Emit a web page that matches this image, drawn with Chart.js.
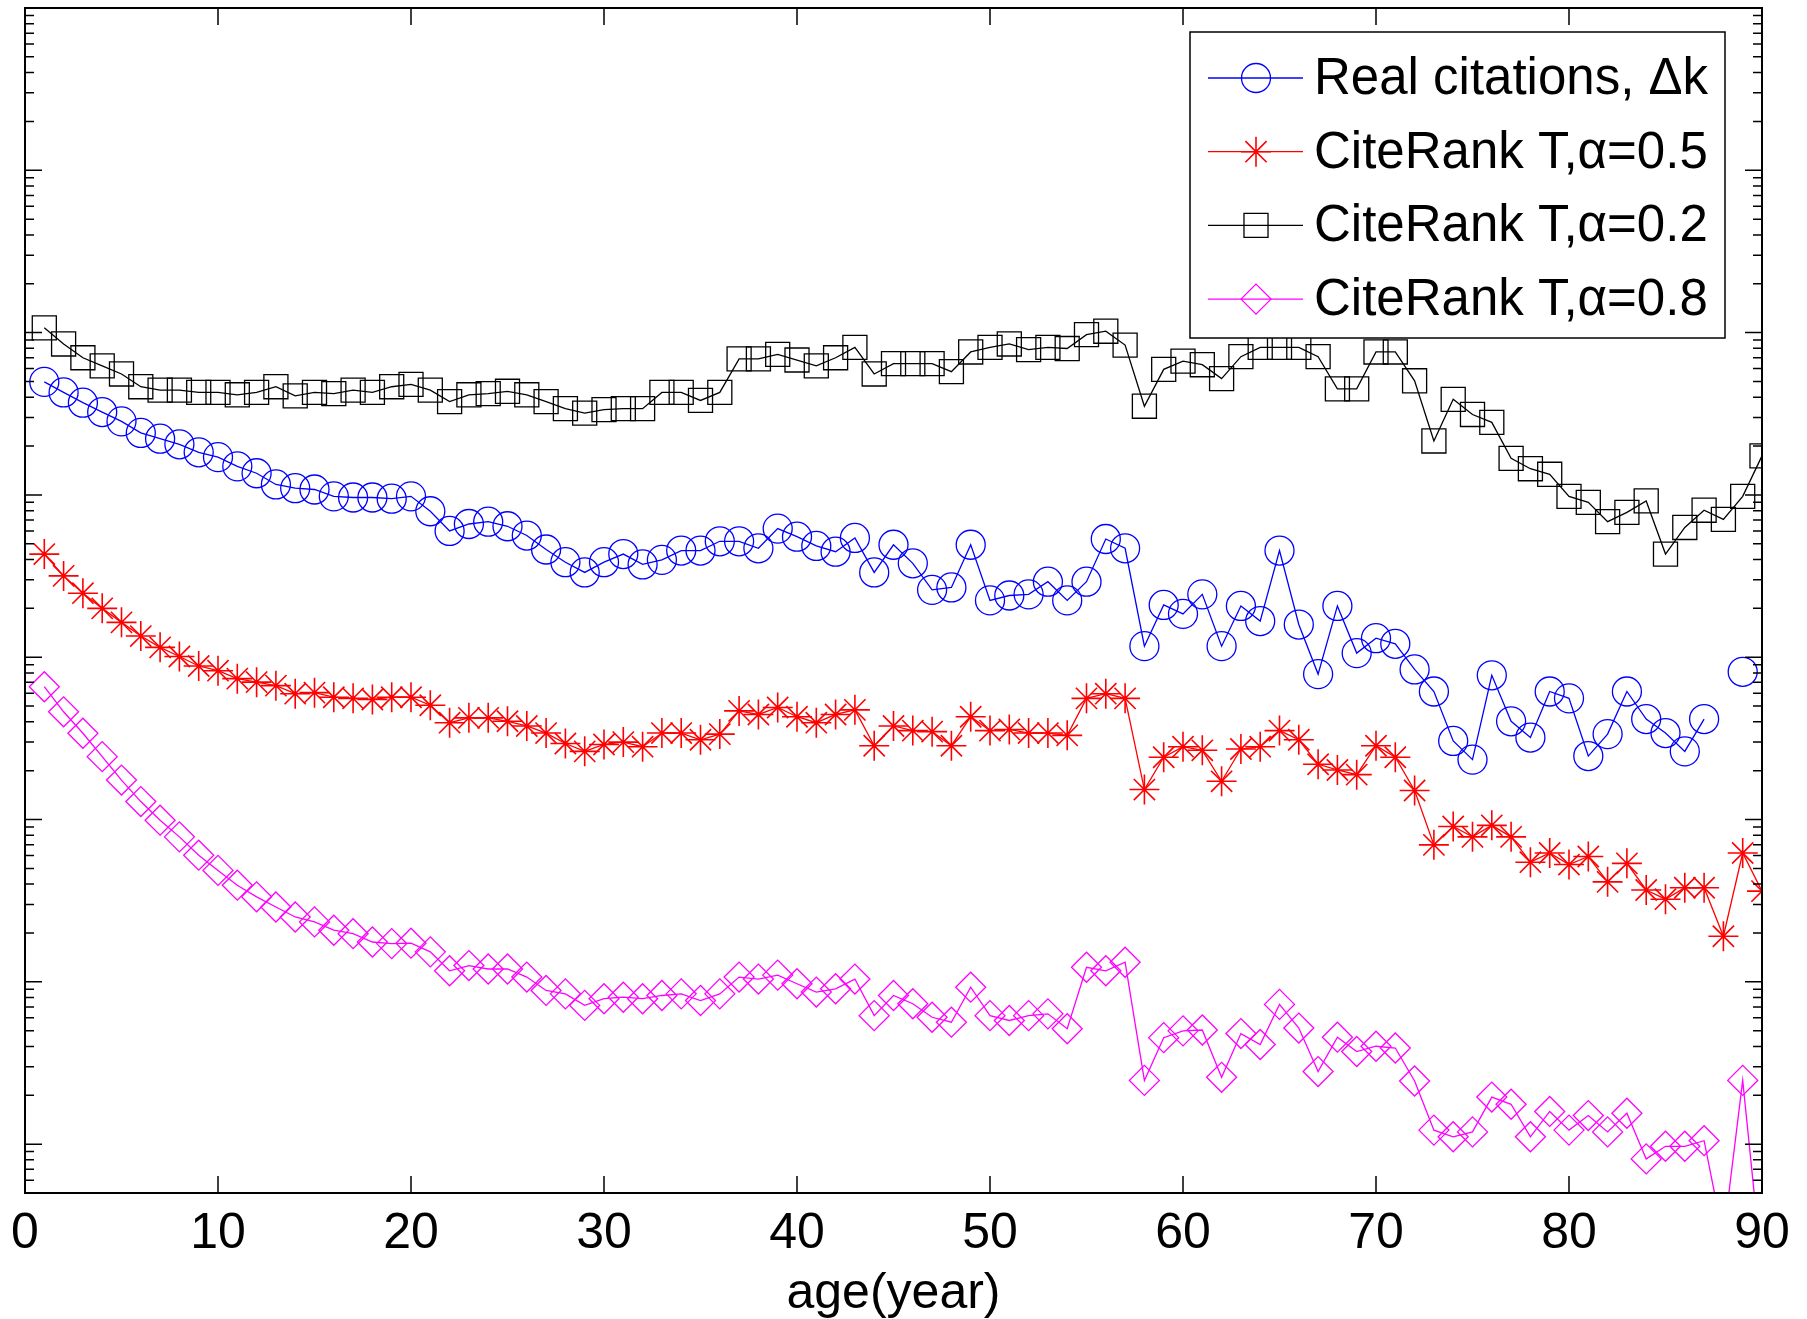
<!DOCTYPE html>
<html lang="en">
<head>
    <meta charset="UTF-8">
    <title>Citations vs age</title>
    <script src="https://cdn.jsdelivr.net/npm/chart.js@4.4.1/dist/chart.umd.min.js"></script>
    <style>
        html, body { margin: 0; padding: 0; background: #fff; }
        canvas { display: block; }
    </style>
</head>
<body>
    <canvas id="myChart" width="1807" height="1319"></canvas>
    <script>

        var ages = [1, 2, 3, 4, 5, 6, 7, 8, 9, 10,
            11, 12, 13, 14, 15, 16, 17, 18, 19, 20,
            21, 22, 23, 24, 25, 26, 27, 28, 29, 30,
            31, 32, 33, 34, 35, 36, 37, 38, 39, 40,
            41, 42, 43, 44, 45, 46, 47, 48, 49, 50,
            51, 52, 53, 54, 55, 56, 57, 58, 59, 60,
            61, 62, 63, 64, 65, 66, 67, 68, 69, 70,
            71, 72, 73, 74, 75, 76, 77, 78, 79, 80,
            81, 82, 83, 84, 85, 86, 87, 88, 89, 90];

        // real citations, delta k (null = no value at that age)
        var realCitations = [0.00497, 0.00428, 0.00370, 0.00324, 0.00284, 0.00241, 0.00222, 0.00205, 0.00183, 0.00171,
            0.00150, 0.00136, 0.00116, 0.00110, 0.00108, 0.00098, 0.000964, 0.000964, 0.000948, 0.00098,
            0.000793, 0.000600, 0.000662, 0.000684, 0.000641, 0.000562, 0.000461, 0.000385, 0.000333, 0.000385,
            0.000432, 0.000373, 0.000398, 0.000454, 0.000454, 0.000518, 0.000518, 0.000469, 0.000620, 0.000553,
            0.000485, 0.000447, 0.000543, 0.000333, 0.000493, 0.000379, 0.000260, 0.000269, 0.000493, 0.000224,
            0.000240, 0.000244, 0.000292, 0.000224, 0.000292, 0.000535, 0.000469, 0.000117, 0.000210, 0.000185,
            0.000244, 0.000117, 0.000207, 0.000167, 0.000454, 0.000159, 0.0000787, 0.000207, 0.000106, 0.000131,
            0.000121, 0.0000841, 0.0000615, 0.0000305, 0.0000234, 0.0000774, 0.0000403, 0.0000320, 0.0000615, 0.0000558,
            0.0000246, 0.0000336, 0.0000615, 0.0000416, 0.0000341, 0.0000263, 0.0000416, null, 0.0000813, null];

        var citeRank05 = [0.000432, 0.000317, 0.000248, 0.000200, 0.000164, 0.000135, 0.000115, 0.000101, 0.0000883, 0.0000826,
            0.0000738, 0.0000702, 0.0000668, 0.0000596, 0.0000605, 0.0000567, 0.0000558, 0.0000549, 0.0000567, 0.0000567,
            0.0000506, 0.0000395, 0.0000423, 0.0000423, 0.0000403, 0.0000377, 0.0000341, 0.0000294, 0.0000263, 0.0000290,
            0.0000300, 0.0000281, 0.0000341, 0.0000341, 0.0000310, 0.0000336, 0.0000467, 0.0000444, 0.0000490, 0.0000430,
            0.0000395, 0.0000444, 0.0000474, 0.0000285, 0.0000377, 0.0000353, 0.0000348, 0.0000285, 0.0000430, 0.0000353,
            0.0000359, 0.0000341, 0.0000341, 0.0000330, 0.0000558, 0.0000596, 0.0000558, 0.0000153, 0.0000242, 0.0000281,
            0.0000267, 0.0000172, 0.0000272, 0.0000281, 0.0000353, 0.0000310, 0.0000219, 0.0000202, 0.0000189, 0.0000285,
            0.0000242, 0.0000151, 0.00000698, 0.00000906, 0.00000782, 0.00000921, 0.00000782, 0.00000546, 0.00000622, 0.00000528,
            0.00000592, 0.00000413, 0.00000537, 0.00000368, 0.00000323, 0.00000380, 0.00000380, 0.00000191, 0.00000622, 0.00000362];

        var citeRank02 = [0.0107, 0.00851, 0.00700, 0.00624, 0.00556, 0.00464, 0.00442, 0.00442, 0.00428, 0.00428,
            0.00414, 0.00428, 0.00464, 0.00408, 0.00428, 0.00421, 0.00442, 0.00428, 0.00464, 0.00480,
            0.00442, 0.00376, 0.00414, 0.00421, 0.00435, 0.00414, 0.00376, 0.00340, 0.00319, 0.00335,
            0.00340, 0.00340, 0.00428, 0.00428, 0.00382, 0.00428, 0.00689, 0.00689, 0.00735, 0.00678,
            0.00624, 0.00700, 0.00811, 0.00556, 0.00644, 0.00644, 0.00644, 0.00575, 0.00760, 0.00811,
            0.00851, 0.00785, 0.00811, 0.00798, 0.00971, 0.0102, 0.00838, 0.00352, 0.00594, 0.00667,
            0.00634, 0.00521, 0.00711, 0.00811, 0.00811, 0.00811, 0.00711, 0.00450, 0.00450, 0.00760,
            0.00760, 0.00505, 0.00215, 0.00388, 0.00313, 0.00280, 0.00168, 0.00145, 0.00134, 0.00098,
            0.00090, 0.000684, 0.000780, 0.000918, 0.000432, 0.000630, 0.000805, 0.000707, 0.00098, 0.00174];

        var citeRank08 = [0.0000658, 0.0000461, 0.0000340, 0.0000244, 0.0000175, 0.0000129, 0.00000991, 0.00000782, 0.00000603, 0.00000486,
            0.00000394, 0.00000334, 0.00000289, 0.00000251, 0.00000234, 0.00000208, 0.00000198, 0.00000176, 0.00000172, 0.00000173,
            0.00000153, 0.00000117, 0.00000126, 0.00000120, 0.00000120, 0.00000107, 8.85e-7, 8.43e-7, 7.16e-7, 7.87e-7,
            8.04e-7, 7.87e-7, 8.24e-7, 8.43e-7, 7.67e-7, 8.43e-7, 1.07e-6, 1.04e-6, 1.10e-6, 9.73e-7,
            8.65e-7, 9.06e-7, 1.04e-6, 6.19e-7, 8.24e-7, 7.33e-7, 6.05e-7, 5.64e-7, 9.27e-7, 6.19e-7,
            5.78e-7, 6.19e-7, 6.35e-7, 5.14e-7, 1.23e-6, 1.17e-6, 1.32e-6, 2.47e-7, 4.53e-7, 4.99e-7,
            5.05e-7, 2.58e-7, 4.80e-7, 4.11e-7, 7.26e-7, 5.19e-7, 2.80e-7, 4.56e-7, 3.72e-7, 4.01e-7,
            3.91e-7, 2.45e-7, 1.22e-7, 1.11e-7, 1.19e-7, 1.95e-7, 1.76e-7, 1.11e-7, 1.59e-7, 1.22e-7,
            1.50e-7, 1.19e-7, 1.55e-7, 8.11e-8, 9.70e-8, 9.70e-8, 1.05e-7, 2.66e-8, 2.47e-7, 1.68e-8];

        var xTicks = [0, 10, 20, 30, 40, 50, 60, 70, 80, 90];
        var yDecades = [1e-8, 1e-7, 1e-6, 1e-5, 1e-4, 1e-3, 1e-2, 1e-1, 1];

        var seriesNames = ['Real citations, \u0394k', 'CiteRank T,\u03b1=0.5', 'CiteRank T,\u03b1=0.2', 'CiteRank T,\u03b1=0.8'];

        var FONT = "'Liberation Sans', Arial, Helvetica, sans-serif";

        function toPoints(values) {
            return ages.map(function(a, i) {
                return {x: a, y: values[i]};
            });
        }

        function series(name, values, color, style, radius, width) {
            return {
                label: name,
                data: toPoints(values),
                borderColor: color,
                backgroundColor: 'rgba(0,0,0,0)',
                borderWidth: 1.3,
                pointStyle: style,
                pointRadius: radius,
                pointHoverRadius: radius,
                pointBorderColor: color,
                pointBackgroundColor: 'rgba(0,0,0,0)',
                pointBorderWidth: width,
                fill: false,
                tension: 0,
                spanGaps: false
            };
        }

        // inward tick marks on all four sides plus the box, like matlab
        var matlabAxes = {
            id: 'matlabAxes',
            afterDatasetsDraw: function(chart) {
                var ctx = chart.ctx;
                var area = chart.chartArea;
                var xs = chart.scales.x;
                var ys = chart.scales.y;
                ctx.save();
                ctx.strokeStyle = '#000';
                ctx.lineWidth = 1.5;
                ctx.beginPath();
                xTicks.forEach(function(v) {
                    var px = xs.getPixelForValue(v);
                    ctx.moveTo(px, area.bottom);
                    ctx.lineTo(px, area.bottom - 17);
                    ctx.moveTo(px, area.top);
                    ctx.lineTo(px, area.top + 17);
                });
                yDecades.forEach(function(d) {
                    for (var m = 1; m <= 9; m++) {
                        var v = m * d;
                        if (v < ys.min || v > ys.max) continue;
                        var py = ys.getPixelForValue(v);
                        var len = m === 1 ? 17 : 9;
                        ctx.moveTo(area.left, py);
                        ctx.lineTo(area.left + len, py);
                        ctx.moveTo(area.right, py);
                        ctx.lineTo(area.right - len, py);
                    }
                });
                ctx.stroke();
                ctx.lineWidth = 2;
                ctx.strokeRect(area.left, area.top, area.right - area.left, area.bottom - area.top);
                ctx.restore();
            }
        };

        // boxed legend in the top right corner
        var matlabLegend = {
            id: 'matlabLegend',
            afterDraw: function(chart) {
                var ctx = chart.ctx;
                var area = chart.chartArea;
                var right = area.right - 37;
                var left = right - 535;
                var top = area.top + 24;
                var bottom = top + 306;
                ctx.save();
                ctx.fillStyle = '#fff';
                ctx.fillRect(left, top, right - left, bottom - top);
                ctx.strokeStyle = '#000';
                ctx.lineWidth = 1.5;
                ctx.strokeRect(left, top, right - left, bottom - top);

                chart.data.datasets.forEach(function(ds, i) {
                    var rowY = top + 46 + i * 73.7;
                    ctx.strokeStyle = ds.borderColor;
                    ctx.lineWidth = ds.borderWidth;
                    ctx.beginPath();
                    ctx.moveTo(left + 18, rowY);
                    ctx.lineTo(left + 113, rowY);
                    ctx.stroke();
                    if (Chart.helpers && Chart.helpers.drawPoint) {
                        ctx.fillStyle = 'rgba(0,0,0,0)';
                        ctx.lineWidth = ds.pointBorderWidth;
                        Chart.helpers.drawPoint(ctx, {
                            pointStyle: ds.pointStyle,
                            radius: ds.pointRadius,
                            rotation: 0,
                            borderWidth: ds.pointBorderWidth
                        }, left + 66, rowY);
                    }
                    ctx.fillStyle = '#000';
                    ctx.font = '51px ' + FONT;
                    ctx.textBaseline = 'middle';
                    ctx.textAlign = 'left';
                    ctx.fillText(ds.label, left + 124, rowY + 2);
                });
                ctx.restore();
            }
        };

        var ctx = document.getElementById('myChart').getContext('2d');
        var chart = new Chart(ctx, {
            type: 'line',
            data: {
                datasets: [
                    series(seriesNames[0], realCitations, '#0000ff', 'circle', 14.5, 1.3),
                    series(seriesNames[1], citeRank05, '#ff0000', 'star', 15, 1.6),
                    series(seriesNames[2], citeRank02, '#000000', 'rect', 17, 1.3),
                    series(seriesNames[3], citeRank08, '#ff00ff', 'rectRot', 15, 1.3)
                ]
            },
            options: {
                responsive: false,
                animation: false,
                devicePixelRatio: 1,
                layout: {
                    autoPadding: false,
                    padding: {left: 25, right: 45, top: 8, bottom: 0}
                },
                plugins: {
                    legend: {display: false},
                    tooltip: {enabled: false}
                },
                scales: {
                    x: {
                        type: 'linear',
                        min: 0,
                        max: 90,
                        afterBuildTicks: function(scale) {
                            scale.ticks = xTicks.map(function(v) { return {value: v}; });
                        },
                        afterFit: function(scale) {
                            scale.height = 126;
                        },
                        ticks: {
                            padding: 11,
                            color: '#000',
                            maxRotation: 0,
                            autoSkip: false,
                            font: {family: FONT, size: 50}
                        },
                        grid: {display: false, drawTicks: false},
                        border: {display: false},
                        title: {
                            display: true,
                            text: 'age(year)',
                            color: '#000',
                            font: {family: FONT, size: 50},
                            padding: {top: 0, bottom: -5}
                        }
                    },
                    y: {
                        type: 'logarithmic',
                        min: 5e-8,
                        max: 1,
                        afterFit: function(scale) {
                            scale.width = 0;
                        },
                        ticks: {display: false},
                        grid: {display: false, drawTicks: false},
                        border: {display: false}
                    }
                }
            },
            plugins: [matlabAxes, matlabLegend]
        });
    </script>
</body>
</html>
